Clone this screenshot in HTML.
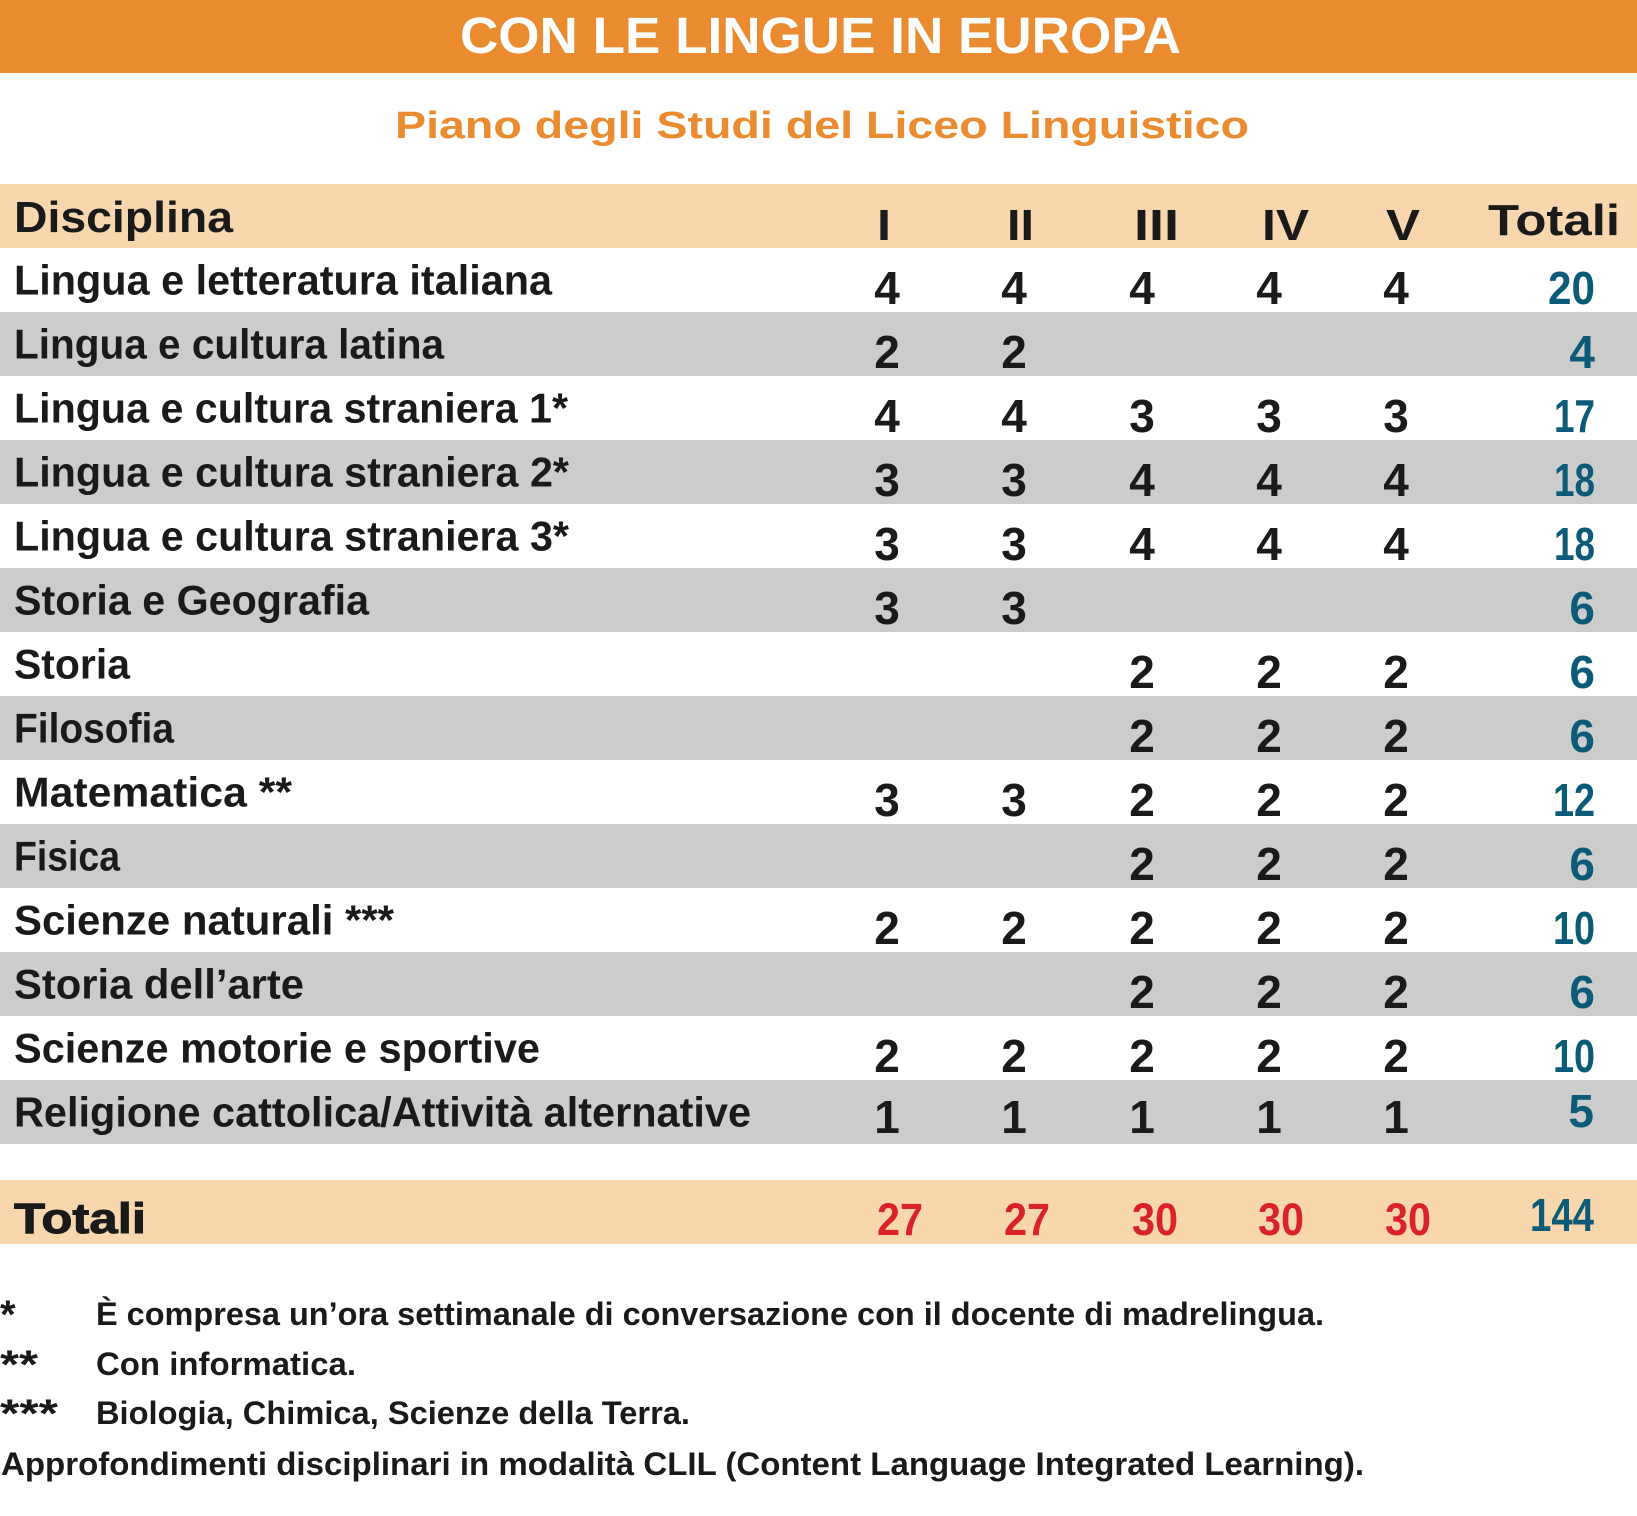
<!DOCTYPE html>
<html>
<head>
<meta charset="utf-8">
<style>
  html, body { margin: 0; padding: 0; background: #ffffff; }
  body { width: 1637px; height: 1516px; overflow: hidden; }
  svg { display: block; }
  text { font-family: "Liberation Sans", Arial, sans-serif; font-weight: bold; }
  .lab { font-size: 42px; fill: #1a1a1a; }
  .num { font-size: 46px; fill: #1a1a1a; text-anchor: middle; }
  .tot { font-size: 46px; fill: #0a5a78; text-anchor: end; }
  .red { font-size: 45px; fill: #d9222b; text-anchor: middle; }
  .hd  { font-size: 44px; fill: #1a1a1a; }
  .fn  { font-size: 32px; fill: #1a1a1a; }
  .ast { font-size: 40px; fill: #1a1a1a; }
</style>
</head>
<body>
<svg width="1637" height="1516" viewBox="0 0 1637 1516" xmlns="http://www.w3.org/2000/svg">
  <!-- Title bar -->
  <rect x="0" y="0" width="1637" height="73" fill="#e98b2e"/>
  <text x="460" y="53" font-size="51" fill="#ffffff" font-weight="bold" textLength="721" lengthAdjust="spacingAndGlyphs">CON LE LINGUE IN EUROPA</text>

  <!-- Subtitle -->
  <text x="395" y="138" font-size="38" fill="#e98b2e" textLength="854" lengthAdjust="spacingAndGlyphs">Piano degli Studi del Liceo Linguistico</text>

  <!-- Header band -->
  <rect x="0" y="184" width="1637" height="64" fill="#f8d7ae"/>
  <text class="hd" x="14" y="232" textLength="219" lengthAdjust="spacingAndGlyphs">Disciplina</text>
  <text class="hd" x="877" y="240" textLength="14" lengthAdjust="spacingAndGlyphs">I</text>
  <text class="hd" x="1007" y="240" textLength="27" lengthAdjust="spacingAndGlyphs">II</text>
  <text class="hd" x="1134" y="240" textLength="45" lengthAdjust="spacingAndGlyphs">III</text>
  <text class="hd" x="1262" y="240" textLength="47" lengthAdjust="spacingAndGlyphs">IV</text>
  <text class="hd" x="1386" y="240" textLength="34" lengthAdjust="spacingAndGlyphs">V</text>
  <text class="hd" x="1488" y="235" textLength="132" lengthAdjust="spacingAndGlyphs">Totali</text>

  <!-- Gray row backgrounds -->
  <rect x="0" y="312" width="1637" height="64" fill="#cccccc"/>
  <rect x="0" y="440" width="1637" height="64" fill="#cccccc"/>
  <rect x="0" y="568" width="1637" height="64" fill="#cccccc"/>
  <rect x="0" y="696" width="1637" height="64" fill="#cccccc"/>
  <rect x="0" y="824" width="1637" height="64" fill="#cccccc"/>
  <rect x="0" y="952" width="1637" height="64" fill="#cccccc"/>
  <rect x="0" y="1080" width="1637" height="64" fill="#cccccc"/>

  <!-- Row 1 -->
  <text class="lab" x="14" y="294.5" textLength="538" lengthAdjust="spacingAndGlyphs">Lingua e letteratura italiana</text>
  <text class="num" x="887" y="304">4</text><text class="num" x="1014" y="304">4</text><text class="num" x="1142" y="304">4</text><text class="num" x="1269" y="304">4</text><text class="num" x="1396" y="304">4</text>
  <text class="tot" x="1595" y="304" textLength="47" lengthAdjust="spacingAndGlyphs">20</text>

  <!-- Row 2 -->
  <text class="lab" x="14" y="358.5" textLength="430" lengthAdjust="spacingAndGlyphs">Lingua e cultura latina</text>
  <text class="num" x="887" y="368">2</text><text class="num" x="1014" y="368">2</text>
  <text class="tot" x="1595" y="368">4</text>

  <!-- Row 3 -->
  <text class="lab" x="14" y="422.5" textLength="554" lengthAdjust="spacingAndGlyphs">Lingua e cultura straniera 1*</text>
  <text class="num" x="887" y="432">4</text><text class="num" x="1014" y="432">4</text><text class="num" x="1142" y="432">3</text><text class="num" x="1269" y="432">3</text><text class="num" x="1396" y="432">3</text>
  <text class="tot" x="1595" y="432" textLength="41" lengthAdjust="spacingAndGlyphs">17</text>

  <!-- Row 4 -->
  <text class="lab" x="14" y="486.5" textLength="555" lengthAdjust="spacingAndGlyphs">Lingua e cultura straniera 2*</text>
  <text class="num" x="887" y="496">3</text><text class="num" x="1014" y="496">3</text><text class="num" x="1142" y="496">4</text><text class="num" x="1269" y="496">4</text><text class="num" x="1396" y="496">4</text>
  <text class="tot" x="1595" y="496" textLength="41" lengthAdjust="spacingAndGlyphs">18</text>

  <!-- Row 5 -->
  <text class="lab" x="14" y="550.5" textLength="555" lengthAdjust="spacingAndGlyphs">Lingua e cultura straniera 3*</text>
  <text class="num" x="887" y="560">3</text><text class="num" x="1014" y="560">3</text><text class="num" x="1142" y="560">4</text><text class="num" x="1269" y="560">4</text><text class="num" x="1396" y="560">4</text>
  <text class="tot" x="1595" y="560" textLength="41" lengthAdjust="spacingAndGlyphs">18</text>

  <!-- Row 6 -->
  <text class="lab" x="14" y="614.5" textLength="355" lengthAdjust="spacingAndGlyphs">Storia e Geografia</text>
  <text class="num" x="887" y="624">3</text><text class="num" x="1014" y="624">3</text>
  <text class="tot" x="1595" y="624">6</text>

  <!-- Row 7 -->
  <text class="lab" x="14" y="678.5" textLength="116" lengthAdjust="spacingAndGlyphs">Storia</text>
  <text class="num" x="1142" y="688">2</text><text class="num" x="1269" y="688">2</text><text class="num" x="1396" y="688">2</text>
  <text class="tot" x="1595" y="688">6</text>

  <!-- Row 8 -->
  <text class="lab" x="14" y="742.5" textLength="160" lengthAdjust="spacingAndGlyphs">Filosofia</text>
  <text class="num" x="1142" y="752">2</text><text class="num" x="1269" y="752">2</text><text class="num" x="1396" y="752">2</text>
  <text class="tot" x="1595" y="752">6</text>

  <!-- Row 9 -->
  <text class="lab" x="14" y="806.5" textLength="278" lengthAdjust="spacingAndGlyphs">Matematica **</text>
  <text class="num" x="887" y="816">3</text><text class="num" x="1014" y="816">3</text><text class="num" x="1142" y="816">2</text><text class="num" x="1269" y="816">2</text><text class="num" x="1396" y="816">2</text>
  <text class="tot" x="1595" y="816" textLength="42" lengthAdjust="spacingAndGlyphs">12</text>

  <!-- Row 10 -->
  <text class="lab" x="14" y="870.5" textLength="106" lengthAdjust="spacingAndGlyphs">Fisica</text>
  <text class="num" x="1142" y="880">2</text><text class="num" x="1269" y="880">2</text><text class="num" x="1396" y="880">2</text>
  <text class="tot" x="1595" y="880">6</text>

  <!-- Row 11 -->
  <text class="lab" x="14" y="934.5" textLength="380" lengthAdjust="spacingAndGlyphs">Scienze naturali ***</text>
  <text class="num" x="887" y="944">2</text><text class="num" x="1014" y="944">2</text><text class="num" x="1142" y="944">2</text><text class="num" x="1269" y="944">2</text><text class="num" x="1396" y="944">2</text>
  <text class="tot" x="1595" y="944" textLength="42" lengthAdjust="spacingAndGlyphs">10</text>

  <!-- Row 12 -->
  <text class="lab" x="14" y="998.5" textLength="290" lengthAdjust="spacingAndGlyphs">Storia dell’arte</text>
  <text class="num" x="1142" y="1008">2</text><text class="num" x="1269" y="1008">2</text><text class="num" x="1396" y="1008">2</text>
  <text class="tot" x="1595" y="1008">6</text>

  <!-- Row 13 -->
  <text class="lab" x="14" y="1062.5" textLength="526" lengthAdjust="spacingAndGlyphs">Scienze motorie e sportive</text>
  <text class="num" x="887" y="1072">2</text><text class="num" x="1014" y="1072">2</text><text class="num" x="1142" y="1072">2</text><text class="num" x="1269" y="1072">2</text><text class="num" x="1396" y="1072">2</text>
  <text class="tot" x="1595" y="1072" textLength="42" lengthAdjust="spacingAndGlyphs">10</text>

  <!-- Row 14 -->
  <text class="lab" x="14" y="1126.5" textLength="737" lengthAdjust="spacingAndGlyphs">Religione cattolica/Attività alternative</text>
  <text class="num" x="887" y="1133">1</text><text class="num" x="1014" y="1133">1</text><text class="num" x="1142" y="1133">1</text><text class="num" x="1269" y="1133">1</text><text class="num" x="1396" y="1133">1</text>
  <text class="tot" x="1594" y="1127">5</text>

  <!-- Totali band -->
  <rect x="0" y="1180" width="1637" height="64" fill="#f8d7ae"/>
  <text x="14" y="1233" font-size="43" fill="#1a1a1a" textLength="132" lengthAdjust="spacingAndGlyphs" stroke="#1a1a1a" stroke-width="1">Totali</text>
  <text class="red" x="900" y="1235" textLength="46" lengthAdjust="spacingAndGlyphs">27</text>
  <text class="red" x="1027" y="1235" textLength="46" lengthAdjust="spacingAndGlyphs">27</text>
  <text class="red" x="1155" y="1235" textLength="46" lengthAdjust="spacingAndGlyphs">30</text>
  <text class="red" x="1281" y="1235" textLength="46" lengthAdjust="spacingAndGlyphs">30</text>
  <text class="red" x="1408" y="1235" textLength="46" lengthAdjust="spacingAndGlyphs">30</text>
  <text class="tot" x="1594" y="1231" textLength="64" lengthAdjust="spacingAndGlyphs">144</text>

  <!-- Footnotes -->
  <text class="ast" x="0" y="1328">*</text>
  <text class="fn" x="96" y="1325" textLength="1228" lengthAdjust="spacingAndGlyphs">È compresa un’ora settimanale di conversazione con il docente di madrelingua.</text>

  <text class="ast" x="0" y="1378" textLength="38" lengthAdjust="spacingAndGlyphs">**</text>
  <text class="fn" x="96" y="1375" textLength="260" lengthAdjust="spacingAndGlyphs">Con informatica.</text>

  <text class="ast" x="0" y="1427" textLength="58" lengthAdjust="spacingAndGlyphs">***</text>
  <text class="fn" x="96" y="1424" textLength="594" lengthAdjust="spacingAndGlyphs">Biologia, Chimica, Scienze della Terra.</text>

  <text class="fn" x="1" y="1475" textLength="1363" lengthAdjust="spacingAndGlyphs">Approfondimenti disciplinari in modalità CLIL (Content Language Integrated Learning).</text>
</svg>
</body>
</html>
